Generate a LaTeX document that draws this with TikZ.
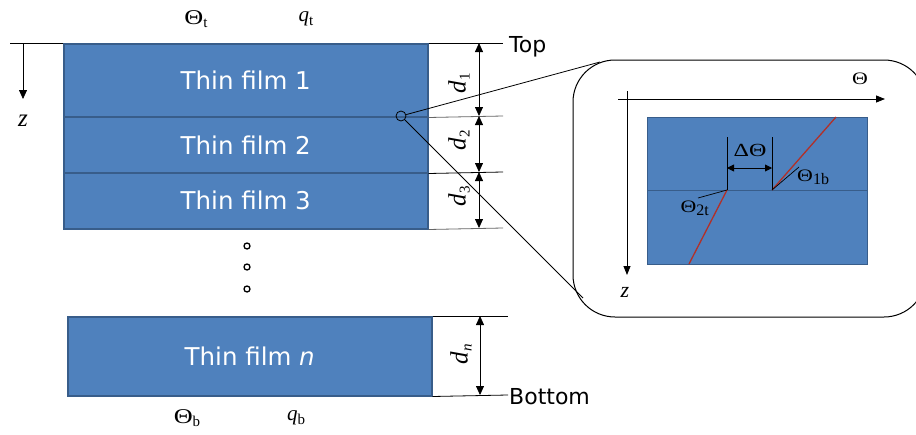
\documentclass[tikz,border=0pt]{standalone}
\usepackage{fontspec}
\setmainfont{Liberation Serif}
\newfontfamily\sansf{DejaVu Sans}
\usetikzlibrary{arrows.meta}
\definecolor{filmblue}{RGB}{79,129,189}
\definecolor{filmedge}{RGB}{56,93,138}
\definecolor{redline}{RGB}{178,48,40}
\newcommand{\lsub}[1]{\raisebox{-0.35ex}{\fontsize{15}{18}\selectfont #1}}
\newcommand{\ssub}[1]{\raisebox{-0.4ex}{\fontsize{16}{19}\selectfont #1}}
\newcommand{\Th}{\scalebox{1.25}[1]{Θ}}
\begin{document}
\begin{tikzpicture}[x=1pt,y=-1pt,
  film/.style={draw=filmedge,fill=filmblue,line width=1.5pt,anchor=north west,minimum width=364pt,inner sep=0,
    text=white,font=\sansf\fontsize{24.5}{28}\selectfont},
  sansl/.style={font=\sansf\fontsize{22}{25}\selectfont,inner sep=0,anchor=west},
  sr/.style={font=\fontsize{21}{25}\selectfont,inner sep=0},
  srs/.style={font=\fontsize{17.5}{20}\selectfont,inner sep=0},
  dimarr/.style={{Triangle[length=9pt,width=8pt]}-{Triangle[length=9pt,width=8pt]},line width=0.8pt},
  ext/.style={line width=0.8pt},
  extg/.style={line width=0.8pt,draw=black!60},
  dotc/.style={circle,draw,line width=1.3pt,minimum size=6pt,inner sep=0}
]
\useasboundingbox (0,0) rectangle (916,434);
% films
\node[film,minimum height=73pt] (f1) at (63,43) {Thin film 1};
\node[film,minimum height=56pt] (f2) at (63,116) {Thin film 2};
\node[film,minimum height=56pt] (f3) at (63,172) {Thin film 3};
\node[film,minimum height=79pt] (fn) at (67,316) {Thin film \textit{n}};
% left axis
\coordinate (al) at (10,43);
\coordinate (zs) at (23,43);
\coordinate (ze) at (23,99);
\draw[line width=0.8pt] (al) -- (f1.north west);
\draw[line width=0.8pt,-{Triangle[length=9pt,width=8pt]}] (zs) -- (ze);
\node[sr,font=\fontsize{25}{28}\selectfont] (zl) at (23,121) {\textit{z}};
% top/bottom labels
\node[sr] (tht) at (196,19) {\Th\lsub{t}};
\node[sr] (qt) at (306,19) {\textit{q}\lsub{t}};
\node[sr] (thb) at (187,418) {\Th\lsub{b}};
\node[sr] (qb) at (296,418) {\textit{q}\lsub{b}};
% extension lines
\coordinate (e0) at (503,43);
\coordinate (e1) at (503,116);
\coordinate (e2) at (503,172);
\coordinate (e3) at (503,228);
\coordinate (en0) at (508,316);
\coordinate (en1) at (508,395);
\draw[ext] (f1.north east) -- (e0);
\draw[extg] (f1.south east) -- (e1);
\draw[ext] (f2.south east) -- (e2);
\draw[extg] (f3.south east) -- (e3);
\draw[ext] (fn.north east) -- (en0);
\draw[ext] (fn.south east) -- (en1);
% dimension arrows
\coordinate (a0) at (479,43);
\coordinate (a1) at (479,116);
\coordinate (a2) at (479,172);
\coordinate (a3) at (479,228);
\coordinate (an0) at (480,316);
\coordinate (an1) at (480,395);
\draw[dimarr] (a0) -- (a1);
\draw[dimarr] (a1) -- (a2);
\draw[dimarr] (a2) -- (a3);
\draw[dimarr] (an0) -- (an1);
\node[sr,rotate=90,font=\fontsize{25}{28}\selectfont] (d1) at (459,83) {\textit{d}\lsub{1}};
\node[sr,rotate=90,font=\fontsize{25}{28}\selectfont] (d2) at (459,140) {\textit{d}\lsub{2}};
\node[sr,rotate=90,font=\fontsize{25}{28}\selectfont] (d3) at (459,196) {\textit{d}\lsub{3}};
\node[sr,rotate=90,font=\fontsize{25}{28}\selectfont] (dn) at (461,354) {\textit{d}\lsub{\textit{n}}};
\node[sansl] (top) at (509,47) {Top};
\node[sansl] (bot) at (509,397) {Bottom};
% dots
\node[dotc] (o1) at (247,246) {};
\node[dotc] (o2) at (247,267) {};
\node[dotc] (o3) at (247,289) {};
% magnifier
\node[circle,draw,line width=0.8pt,minimum size=10pt,inner sep=0] (mag) at (401,116) {};
\draw[line width=1pt,rounded corners=42pt] (573,60) rectangle (926,317);
\coordinate (m1) at (600,62);
\coordinate (m2) at (583,298);
\draw[line width=0.8pt] (mag) -- (m1);
\draw[line width=0.8pt] (mag) -- (m2);
% inset
\node[draw=filmedge,fill=filmblue,line width=1.2pt,anchor=north west,minimum width=220pt,minimum height=73pt,inner sep=0] (u1) at (647,117) {};
\node[draw=filmedge,fill=filmblue,line width=1.2pt,anchor=north west,minimum width=220pt,minimum height=74pt,inner sep=0] (u2) at (647,190) {};
\coordinate (hx0) at (618,99);
\coordinate (hx1) at (885,99);
\coordinate (vz0) at (627,91);
\coordinate (vz1) at (627,275);
\draw[line width=0.8pt,-{Triangle[length=9pt,width=7pt]}] (hx0) -- (hx1);
\draw[line width=0.8pt,-{Triangle[length=9pt,width=7pt]}] (vz0) -- (vz1);
\node[srs] (thax) at (860,79) {\Th};
\node[srs,font=\fontsize{22}{24}\selectfont] (zax) at (625,292) {\textit{z}};
% red lines
\coordinate (r1a) at (772,190);
\coordinate (r1b) at (836,117);
\coordinate (r2a) at (727,190);
\coordinate (r2b) at (689,264);
\draw[redline,line width=1.3pt] (r1a) -- (r1b);
\draw[redline,line width=1.3pt] (r2a) -- (r2b);
% delta theta
\coordinate (v1t) at (727,137);
\coordinate (v2t) at (772,137);
\draw[line width=0.9pt] (r2a) -- (v1t);
\draw[line width=0.9pt] (r1a) -- (v2t);
\coordinate (h1) at (727,168);
\coordinate (h2) at (772,168);
\draw[line width=0.9pt,{Triangle[length=7pt,width=7pt]}-{Triangle[length=7pt,width=7pt]}] (h1) -- (h2);
\node[font=\fontsize{18.5}{21}\selectfont,inner sep=0] (dth) at (750,150) {\scalebox{1.3}[1]{ΔΘ}};
\node[srs,anchor=west] (th1b) at (797,177) {\Th\ssub{1b}};
\node[srs,anchor=east] (th2t) at (709,208) {\Th\ssub{2t}};
\coordinate (l1) at (799,167);
\coordinate (l2) at (698,198);
\draw[line width=0.7pt] (r1a) -- (l1);
\draw[line width=0.7pt] (r2a) -- (l2);
\end{tikzpicture}
\end{document}
